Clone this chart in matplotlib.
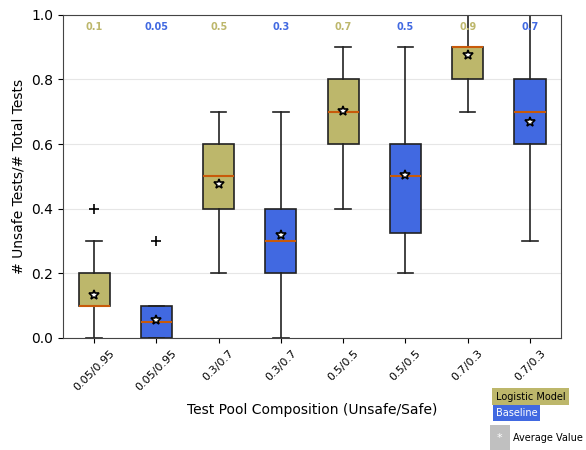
import matplotlib
matplotlib.use("Agg")
import matplotlib.pyplot as plt
from matplotlib.patches import Rectangle

categories = ["0.05/0.95", "0.05/0.95", "0.3/0.7", "0.3/0.7",
              "0.5/0.5", "0.5/0.5", "0.7/0.3", "0.7/0.3"]
groups = ["Logistic Model", "Baseline"] * 4
q1 = [0.10, 0.00, 0.40, 0.20, 0.60, 0.325, 0.80, 0.60]
med = [0.10, 0.05, 0.50, 0.30, 0.70, 0.50, 0.90, 0.70]
q3 = [0.20, 0.10, 0.60, 0.40, 0.80, 0.60, 0.90, 0.80]
whislo = [0.00, 0.00, 0.20, 0.00, 0.40, 0.20, 0.70, 0.30]
whishi = [0.30, 0.10, 0.70, 0.70, 0.90, 0.90, 1.00, 1.00]
means = [0.133, 0.057, 0.477, 0.318, 0.703, 0.503, 0.876, 0.669]
fliers = [[0.40], [0.30], [], [], [], [], [], []]
median_labels = ["0.1", "0.05", "0.5", "0.3", "0.7", "0.5", "0.9", "0.7"]

colors = {"Logistic Model": "#bdb76b", "Baseline": "#4169e1"}

fig = plt.figure(figsize=(5.86, 4.5), dpi=100)
ax = fig.add_axes([0.1075, 0.249, 0.85, 0.718])

stats = []
for i in range(len(categories)):
    stats.append(dict(q1=q1[i], med=med[i], q3=q3[i], whislo=whislo[i],
                      whishi=whishi[i], mean=means[i], fliers=fliers[i],
                      label=categories[i]))

positions = list(range(1, len(categories) + 1))
bp = ax.bxp(stats, positions=positions, widths=0.5, patch_artist=True,
            showmeans=True,
            meanprops=dict(marker="*", markerfacecolor="white",
                           markeredgecolor="black", markersize=7,
                           markeredgewidth=1.2),
            medianprops=dict(color="#c85a0a", linewidth=1.5),
            flierprops=dict(marker="+", markeredgecolor="black",
                            markersize=7, markeredgewidth=1.2),
            whiskerprops=dict(color="#222222", linewidth=1.2),
            capprops=dict(color="#222222", linewidth=1.2),
            boxprops=dict(edgecolor="#222222", linewidth=1.2))
for patch, g in zip(bp["boxes"], groups):
    patch.set_facecolor(colors[g])

for pos, lab, g in zip(positions, median_labels, groups):
    ax.text(pos, 0.962, lab, ha="center", va="center", fontsize=7,
            fontweight="bold", color=colors[g])

for s in ax.spines.values():
    s.set_color("#444444")
ax.set_xlim(0.5, len(categories) + 0.5)
ax.set_ylim(0, 1.0)
ax.set_yticks([0, 0.2, 0.4, 0.6, 0.8, 1.0])
ax.yaxis.grid(True, color="#e6e6e6", linewidth=0.8)
ax.set_axisbelow(True)
ax.set_xticks(positions)
ax.set_xticklabels(categories, rotation=45, fontsize=8)
ax.tick_params(axis="y", labelsize=10)
ax.set_ylabel("# Unsafe Tests/# Total Tests", fontsize=10)
ax.set_xlabel("Test Pool Composition (Unsafe/Safe)", fontsize=10, labelpad=8)

# legend-like annotations
fig.text(0.846, 0.118, "Logistic Model", fontsize=7, color="black",
         ha="left", va="center",
         bbox=dict(boxstyle="square,pad=0.35", facecolor="#bdb76b",
                   edgecolor="none"))
fig.text(0.846, 0.083, "Baseline", fontsize=7, color="white",
         ha="left", va="center",
         bbox=dict(boxstyle="square,pad=0.3", facecolor="#4169e1",
                   edgecolor="none"))
fig.patches.append(Rectangle((0.836, 0.0), 0.034, 0.055,
                             transform=fig.transFigure,
                             facecolor="#c0c0c0", edgecolor="none"))
fig.text(0.853, 0.027, "*", fontsize=8, color="white", ha="center",
         va="center")
fig.text(0.876, 0.027, "Average Value", fontsize=7, color="black",
         ha="left", va="center")

fig.savefig("out.png", dpi=100)
